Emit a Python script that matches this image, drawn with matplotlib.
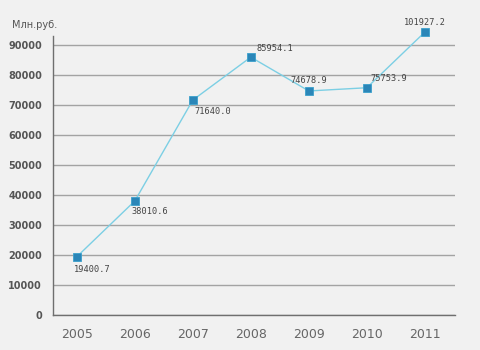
import numpy as np
import matplotlib
matplotlib.use('Agg')
import matplotlib.pyplot as plt

# Data
years = ['2005', '2006', '2007', '2008', '2009', '2010', '2011']
values = [19400.7, 38010.6, 71640.0, 85954.1, 74678.9, 75753.9, 101927.2]
labels = ['19400.7', '38010.6', '71640.0', '85954.1', '74678.9', '75753.9', '101927.2']
yticks = [0, 10000, 20000, 30000, 40000, 50000, 60000, 70000, 80000, 90000]

# label placement (offset in pixels, alignment)
offsets = [(-3, -13, 'left'), (-3, -11, 'left'), (2, -11, 'left'), (6, 9, 'left'),
           (0, 10, 'center'), (4, 9, 'left'), (0, 10, 'center')]

bg = '#f1f1f1'
fig = plt.figure(figsize=(4.8, 3.5), dpi=100, facecolor=bg)
ax = fig.add_axes([53 / 480, 1 - 315 / 350, (455 - 53) / 480, (315 - 36) / 350])
ax.set_facecolor(bg)

x = np.arange(len(years))
ymax = 93000
# the original chart pins the out-of-range value near the top of the plot
shown = np.minimum(values, ymax + 1300)

ax.plot(x, shown, color='#7ccfe4', lw=1, clip_on=False, zorder=3)
ax.plot(x, shown, ls='none', marker='s', ms=6, mfc='#2b86b8', mec='#3aa0cc',
        mew=0.6, clip_on=False, zorder=4)

for xi, yi, lab, (dx, dy, ha) in zip(x, shown, labels, offsets):
    ax.annotate(lab, (xi, yi), xytext=(dx, dy), textcoords='offset pixels',
                ha=ha, va='center', fontsize=6.2, color='#444444',
                family='DejaVu Sans Mono', zorder=5, annotation_clip=False)

ax.set_xlim(-0.41, 6.52)
ax.set_ylim(0, ymax)
ax.set_yticks(yticks)
ax.set_yticklabels([str(t) for t in yticks], fontsize=7, fontweight='bold', color='#555555')
ax.set_xticks(x)
ax.set_xticklabels(years, fontsize=9, color='#666666')
ax.tick_params(axis='both', length=0)
ax.tick_params(axis='y', pad=8)
ax.tick_params(axis='x', pad=9)

ax.grid(axis='y', color='#a3a3a3', lw=1)
ax.set_axisbelow(True)
for s in ['top', 'right']:
    ax.spines[s].set_visible(False)
for s in ['left', 'bottom']:
    ax.spines[s].set_color('#6f6f6f')
    ax.spines[s].set_linewidth(1)

fig.text(12 / 480, 1 - 25 / 350, 'Млн.руб.', fontsize=7, color='#555555', va='center')

fig.savefig('out.png', dpi=100, facecolor=bg)
